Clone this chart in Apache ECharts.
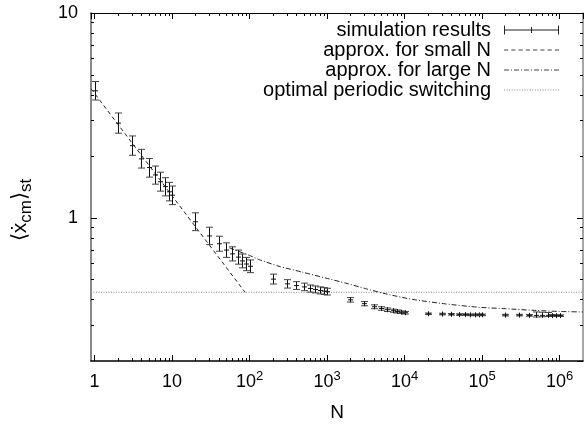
<!DOCTYPE html>
<html><head><meta charset="utf-8">
<script src="https://cdn.jsdelivr.net/npm/echarts@6/dist/echarts.min.js"></script>
<style>html,body{margin:0;padding:0;background:#fff}#c{width:584px;height:428px}</style>
</head><body><div id="c"></div>
<script>
// ---- data ----
const N = [1,2,3,4,5,6,7,8,9,10,
  20,30,40,50,60,70,80,90,100,
  200,300,400,500,600,700,800,900,1000,
  2000,3000,4000,5000,6000,7000,8000,9000,10000,
  20000,30000,40000,50000,60000,70000,80000,90000,100000,
  200000,300000,400000,500000,600000,700000,800000,900000,1000000];
const simMean = [4.17,2.90,2.25,1.94,1.76,1.62,1.50,1.42,1.34,1.29,
  0.957,0.816,0.747,0.696,0.667,0.643,0.616,0.595,0.580,
  0.502,0.476,0.467,0.460,0.452,0.447,0.442,0.439,0.436,
  0.398,0.381,0.368,0.361,0.356,0.352,0.349,0.346,0.344,
  0.340,0.339,0.338,0.337,0.337,0.336,0.336,0.336,0.336,
  0.335,0.335,0.334,0.334,0.334,0.334,0.333,0.333,0.333];
const simLow = [3.76,2.59,2.02,1.75,1.58,1.46,1.35,1.28,1.21,1.16,
  0.866,0.740,0.687,0.641,0.616,0.594,0.570,0.552,0.540,
  0.475,0.454,0.447,0.441,0.434,0.430,0.425,0.422,0.420,
  0.388,0.372,0.360,0.354,0.349,0.346,0.343,0.341,0.339,
  0.337,0.336,0.335,0.334,0.334,0.333,0.333,0.333,0.333,
  0.332,0.332,0.331,0.328,0.329,0.330,0.330,0.330,0.330];
const simHigh = [4.63,3.25,2.51,2.16,1.95,1.79,1.67,1.57,1.49,1.43,
  1.058,0.900,0.813,0.755,0.722,0.696,0.666,0.641,0.623,
  0.531,0.499,0.488,0.480,0.470,0.465,0.460,0.456,0.453,
  0.408,0.390,0.376,0.368,0.363,0.358,0.355,0.351,0.349,
  0.343,0.342,0.341,0.340,0.340,0.339,0.339,0.339,0.339,
  0.338,0.338,0.337,0.347,0.346,0.345,0.337,0.336,0.336];

const smallN_N = [0.9, 87.5];
const smallN_val = [4.27, 0.433];

const largeN_N = [55,100,133,240,480,960,1735,3140,5950,12500,33600,90200,200000,500000,1000000,2000000];
const largeN_val = [0.713,0.655,0.625,0.580,0.543,0.508,0.480,0.451,0.424,0.400,0.380,0.366,0.360,0.353,0.349,0.347];

const optimal_N = [0.9, 2000000];
const optimal_val = [0.433, 0.433];

const xRange = [0.9, 2000000];
const yRange = [0.2, 10];
const xMinorTicks = [];
for (let e = 0; e <= 5; e++) for (let m = 2; m <= 9; m++) xMinorTicks.push(m * Math.pow(10, e));
const yMinorTicks = [0.3,0.4,0.5,0.6,0.7,0.8,0.9,2,3,4,5,6,7,8,9];

const legendNames = ['simulation results','approx. for small N','approx. for large N','optimal periodic switching'];

// ---- styling helpers ----
const FONT = '"Liberation Sans", Arial, Helvetica, sans-serif';
const DASH_SMALL = [4, 3], DASH_LARGE = [5, 2, 1, 2], DASH_OPT = [1, 1.5];

// legend sample: a 55 px long dashed stroke made of thin filled rectangles
function dashIcon(pattern, total) {
  let d = '', x = 0, k = 0;
  while (x < total) {
    const len = pattern[k % pattern.length];
    if (k % 2 === 0) {
      const w = Math.min(len, total - x);
      d += 'M' + x + ',0h' + w + 'v1h-' + w + 'z';
    }
    x += len; k++;
  }
  return 'path://' + d;
}

const chart = echarts.init(document.getElementById('c'), null, {renderer: 'canvas'});

function expLabel(v) {
  const e = Math.round(Math.log10(v));
  if (e === 0) return '{b|1}';
  if (e === 1) return '{b|10}';
  return '{b|10}{s|' + e + '}';
}
const labelRich = {
  b: {fontSize: 18, fontFamily: FONT, color: '#000', lineHeight: 24},
  s: {fontSize: 13, fontFamily: FONT, color: '#000', lineHeight: 13, verticalAlign: 'top'}
};

function pair(xs, ys) { return xs.map((x, i) => [x, ys[i]]); }

const tickStyle = {inside: true, length: 6, lineStyle: {color: '#000', width: 1}};

chart.setOption({
  animation: false,
  backgroundColor: '#fff',
  grid: {left: 91, right: 1, top: 13, bottom: 67, outerBoundsMode: 'none', containLabel: false},
  xAxis: [{
    type: 'log', logBase: 10, min: xRange[0], max: xRange[1], position: 'bottom',
    axisLine: {show: true, lineStyle: {color: '#000', width: 1.5}},
    axisTick: tickStyle,
    splitLine: {show: false},
    axisLabel: {margin: 9, showMinLabel: false, showMaxLabel: false, formatter: expLabel, rich: labelRich},
    name: 'N', nameLocation: 'middle', nameGap: 42,
    nameTextStyle: {fontSize: 19, fontFamily: FONT, color: '#000'}
  }, {
    type: 'log', logBase: 10, min: xRange[0], max: xRange[1], position: 'top',
    axisLine: {show: true, lineStyle: {color: '#000', width: 1}},
    axisTick: tickStyle, axisLabel: {show: false}, splitLine: {show: false}
  }],
  yAxis: [{
    type: 'log', logBase: 10, min: yRange[0], max: yRange[1], position: 'left',
    axisLine: {show: true, lineStyle: {color: '#888', width: 2}},
    axisTick: tickStyle,
    splitLine: {show: false},
    axisLabel: {margin: 13, showMinLabel: false, fontSize: 18, fontFamily: FONT, color: '#000',
      formatter: v => String(Math.round(v))}
  }, {
    type: 'log', logBase: 10, min: yRange[0], max: yRange[1], position: 'right',
    axisLine: {show: true, lineStyle: {color: '#888', width: 1.5}},
    axisTick: tickStyle, axisLabel: {show: false}, splitLine: {show: false}
  }],
  legend: {
    orient: 'vertical', right: 25, top: 20, align: 'right',
    itemWidth: 55, itemHeight: 14, itemGap: 0, padding: 0, selectedMode: false,
    textStyle: {fontSize: 20, lineHeight: 20, height: 20, fontFamily: FONT, color: '#000', padding: [0, 8, 0, 0]},
    data: [
      {name: legendNames[0], icon: 'path://M0,0h1v9h-1zM54,0h1v9h-1zM0,4h55v1h-55zM27,1.5h1v6h-1z'},
      {name: legendNames[1], icon: dashIcon(DASH_SMALL, 55)},
      {name: legendNames[2], icon: dashIcon(DASH_LARGE, 55)},
      {name: legendNames[3], icon: dashIcon(DASH_OPT, 55)}
    ]
  },
  graphic: [{
    type: 'text', x: 20, y: 210, rotation: Math.PI / 2, z: 10,
    style: {
      text: '{m|⟨ẋ}{s|cm}{m|⟩}{s|st}',
      align: 'center', verticalAlign: 'middle',
      rich: {
        m: {fontSize: 21, fontFamily: FONT, fill: '#000', color: '#000', lineHeight: 30},
        s: {fontSize: 17, fontFamily: FONT, fill: '#000', color: '#000', lineHeight: 14, verticalAlign: 'bottom'}
      }
    }
  }],
  series: [
    {
      name: legendNames[1], type: 'line', symbol: 'none', silent: true,
      data: pair(smallN_N, smallN_val),
      lineStyle: {color: '#222', width: 1, type: DASH_SMALL}, itemStyle: {color: '#444'}
    },
    {
      name: legendNames[2], type: 'line', symbol: 'none', silent: true, smooth: 0.2,
      data: pair(largeN_N, largeN_val),
      lineStyle: {color: '#222', width: 1, type: DASH_LARGE}, itemStyle: {color: '#444'}
    },
    {
      name: legendNames[3], type: 'line', symbol: 'none', silent: true,
      data: pair(optimal_N, optimal_val),
      lineStyle: {color: '#888', width: 1, type: DASH_OPT}, itemStyle: {color: '#888'}
    },
    {
      name: legendNames[0], type: 'custom', coordinateSystem: 'cartesian2d', silent: true, z: 5,
      itemStyle: {color: '#222'},
      encode: {x: 0, y: [1, 2, 3]},
      data: N.map((n, i) => [n, simMean[i], simLow[i], simHigh[i]]),
      renderItem: function (params, api) {
        const x = api.value(0);
        const c = api.coord([x, api.value(1)]);
        const lo = api.coord([x, api.value(2)]);
        const hi = api.coord([x, api.value(3)]);
        const px = Math.round(c[0]) + 0.5;
        const cw = 3.5, pw = 2.5;
        const st = {stroke: '#111', lineWidth: 1};
        const cap = {stroke: '#444', lineWidth: 1};
        return {type: 'group', children: [
          {type: 'line', shape: {x1: px, y1: lo[1], x2: px, y2: hi[1]}, style: st},
          {type: 'line', shape: {x1: px - cw, y1: lo[1], x2: px + cw, y2: lo[1]}, style: cap},
          {type: 'line', shape: {x1: px - cw, y1: hi[1], x2: px + cw, y2: hi[1]}, style: cap},
          {type: 'line', shape: {x1: px - pw, y1: c[1], x2: px + pw, y2: c[1]}, style: st},
          {type: 'line', shape: {x1: px, y1: c[1] - pw, x2: px, y2: c[1] + pw}, style: st}
        ]};
      }
    },
    {
      type: 'custom', coordinateSystem: 'cartesian2d', silent: true, z: 6,
      data: xMinorTicks.map(v => [v, 1]),
      renderItem: function (params, api) {
        const cs = params.coordSys;
        const x = Math.round(api.coord([api.value(0), 1])[0]) + 0.5;
        const st = {stroke: '#000', lineWidth: 1};
        return {type: 'group', children: [
          {type: 'line', shape: {x1: x, y1: cs.y + cs.height, x2: x, y2: cs.y + cs.height - 3}, style: st},
          {type: 'line', shape: {x1: x, y1: cs.y, x2: x, y2: cs.y + 3}, style: st}
        ]};
      }
    },
    {
      type: 'custom', coordinateSystem: 'cartesian2d', silent: true, z: 6,
      data: yMinorTicks.map(v => [1, v]),
      renderItem: function (params, api) {
        const cs = params.coordSys;
        const y = Math.round(api.coord([1, api.value(1)])[1]) + 0.5;
        const st = {stroke: '#000', lineWidth: 1};
        return {type: 'group', children: [
          {type: 'line', shape: {x1: cs.x, y1: y, x2: cs.x + 3, y2: y}, style: st},
          {type: 'line', shape: {x1: cs.x + cs.width, y1: y, x2: cs.x + cs.width - 3, y2: y}, style: st}
        ]};
      }
    }
  ]
});
</script></body></html>
